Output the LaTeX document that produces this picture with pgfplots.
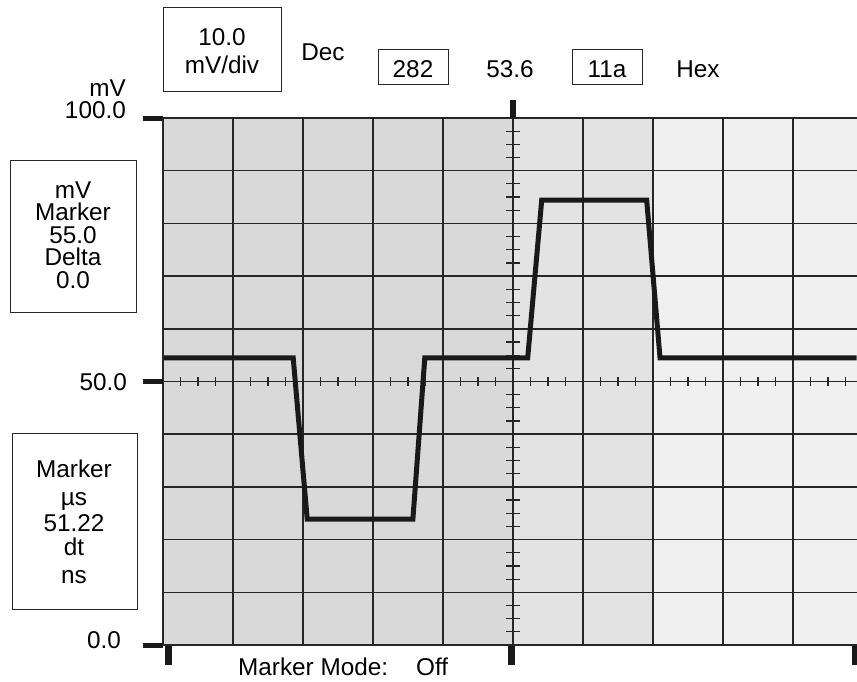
\documentclass[border=0pt]{standalone}
\usepackage{pgfplots}
\pgfplotsset{compat=1.18}
\usepackage{fontspec}
\setmainfont{Liberation Sans}
\begin{document}
\begin{tikzpicture}[x=1pt,y=1pt]
\path (0,0) rectangle (857,-681);
\begin{axis}[
  set layers,
  x=70pt, y=5.27pt,
  anchor=origin, at={(163pt,-645pt)},
  xmin=0, xmax=9.91, ymin=0, ymax=100,
  xtick={0,...,9}, ytick={0,10,...,100},
  xticklabels={}, yticklabels={},
  major tick length=0pt,
  grid=major,
  grid style={black!85, line width=1.5pt},
  axis line style={draw=none},
  axis background/.style={fill=black!15},
]
\begin{pgfonlayer}{axis background}
  \fill[black!11] (axis cs:5,0) rectangle (axis cs:7,100);
  \fill[black!6] (axis cs:7,0) rectangle (axis cs:9.91,100);
\end{pgfonlayer}
\addplot[line width=5pt, black!90, line join=miter] coordinates {
  (0,54.5) (1.86,54.5) (2.06,23.9) (3.57,23.9) (3.74,54.5)
  (5.21,54.5) (5.41,84.4) (6.91,84.4) (7.10,54.5) (9.91,54.5)
};
\draw[black!85, line width=1.8pt] (axis cs:9.91,100) -- (axis cs:0,100) -- (axis cs:0,0) -- (axis cs:9.91,0);
\end{axis}
% centre graticule ticks
\foreach \k in {1,...,39}{
  \pgfmathtruncatemacro{\m}{mod(\k,4)}
  \ifnum\m>0
    \draw[black!85, line width=1.2pt] ({163+17.5*\k},-377) -- ({163+17.5*\k},-386);
    \draw[black!85, line width=1.2pt] (506,{-645+13.175*\k}) -- (520,{-645+13.175*\k});
  \fi
}
% thick markers
\fill[black!90] (143,-115.5) rectangle (163,-120.5);
\fill[black!90] (143,-379) rectangle (163,-384);
\fill[black!90] (143,-642.5) rectangle (163,-647.5);
\fill[black!90] (510,-100) rectangle (516,-118);
\fill[black!90] (165,-646) rectangle (172,-665);
\fill[black!90] (508,-646) rectangle (515,-665);
\fill[black!90] (852,-646) rectangle (857,-665);
% texts
\tikzset{lab/.style={font=\fontsize{24.3}{24}\selectfont, inner sep=0pt}}
\draw[black!85, line width=1pt] (163,-7) rectangle (281,-91);
\node[lab, anchor=base] at (222,-45) {10.0};
\node[lab, anchor=base] at (222,-73) {mV/div};
\node[lab, anchor=base] at (323,-60) {Dec};
\draw[black!85, line width=1pt] (378,-49) rectangle (448,-84);
\node[lab, anchor=base] at (413,-77) {282};
\node[lab, anchor=base] at (510,-77) {53.6};
\draw[black!85, line width=1pt] (572,-49) rectangle (642,-84);
\node[lab, anchor=base] at (607,-77) {11a};
\node[lab, anchor=base] at (698,-77) {Hex};
\node[lab, anchor=base east] at (126,-96) {mV};
\node[lab, anchor=base east] at (126,-118) {100.0};
\node[lab, anchor=base east] at (127,-390) {50.0};
\node[lab, anchor=base east] at (121,-648) {0.0};
\draw[black!85, line width=1pt] (10,-160) rectangle (136,-312);
\node[lab, anchor=base] at (73,-198) {mV};
\node[lab, anchor=base] at (73,-220) {Marker};
\node[lab, anchor=base] at (73,-243) {55.0};
\node[lab, anchor=base] at (73,-265) {Delta};
\node[lab, anchor=base] at (73,-288) {0.0};
\draw[black!85, line width=1pt] (12,-433) rectangle (137,-609);
\node[lab, anchor=base] at (74,-477) {Marker};
\node[lab, anchor=base] at (74,-505) {µs};
\node[lab, anchor=base] at (74,-531) {51.22};
\node[lab, anchor=base] at (74,-555) {dt};
\node[lab, anchor=base] at (74,-583) {ns};
\node[lab, anchor=base west] at (238,-675) {Marker Mode:};
\node[lab, anchor=base west] at (416,-675) {Off};
\pgfresetboundingbox
\useasboundingbox (0,0) rectangle (857,-681);
\end{tikzpicture}
\end{document}
